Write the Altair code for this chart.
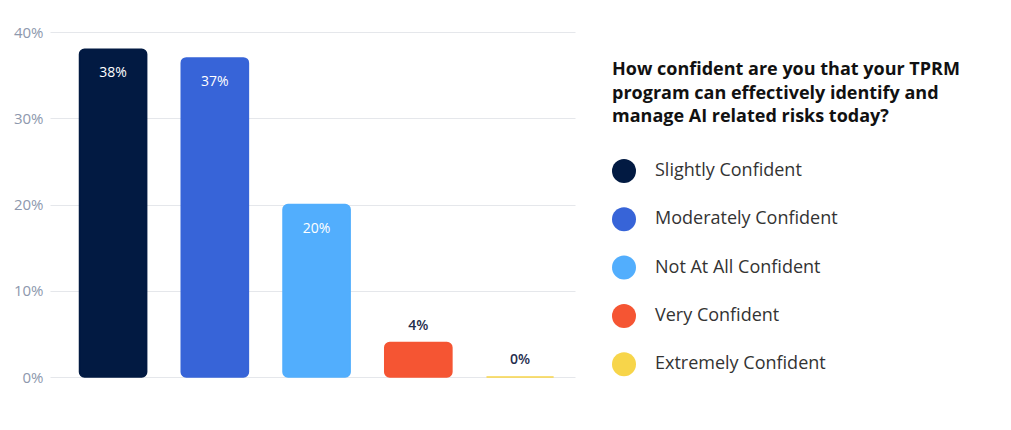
import altair as alt
import pandas as pd

categories = ["Slightly Confident", "Moderately Confident", "Not At All Confident",
              "Very Confident", "Extremely Confident"]
values = [0.38, 0.37, 0.20, 0.04, 0.00]
colors = ["#021a42", "#3764d8", "#52aefd", "#f55533", "#f7d54a"]
title_lines = ["How confident are you that your TPRM",
               "program can effectively identify and",
               "manage AI related risks today?"]

df = pd.DataFrame({"cat": categories, "val": values})

FONT = "Open Sans"

x = alt.X("cat:N", sort=categories, axis=None,
          scale=alt.Scale(paddingInner=0.34, paddingOuter=0.25, align=0.58))
y = alt.Y("val:Q", scale=alt.Scale(domain=[0, 0.4]),
          axis=alt.Axis(format=".0%", values=[0, 0.1, 0.2, 0.3, 0.4], title=None,
                        domain=False, ticks=False, labelPadding=7,
                        labelFont=FONT, labelFontSize=15, labelColor="#8d98ad",
                        gridColor="#e5e7eb", gridWidth=1))
color = alt.Color("cat:N", sort=categories,
                  scale=alt.Scale(domain=categories, range=colors),
                  legend=alt.Legend(title=title_lines, orient="none",
                                    legendX=562, legendY=29,
                                    titleFont=FONT, titleFontSize=18, titleFontWeight="bold",
                                    titleColor="#111111", titleLimit=420, titleLineHeight=23.5,
                                    titlePadding=33,
                                    labelFont=FONT, labelFontSize=18, labelColor="#333333",
                                    labelOffset=19, labelLimit=400,
                                    symbolType="circle", symbolSize=576, symbolStrokeWidth=0,
                                    symbolOpacity=1, rowPadding=24.3, padding=0))

bars = alt.Chart(df).mark_bar(cornerRadius=5, strokeWidth=1.5).encode(
    x=x, y=y, color=color,
    stroke=alt.Stroke("cat:N", sort=categories,
                      scale=alt.Scale(domain=categories, range=colors), legend=None),
)

inside = alt.Chart(df).transform_filter(alt.datum.val > 0.1).mark_text(
    font=FONT, fontSize=14, fontWeight=500, color="#ffffff", baseline="middle", dy=24
).encode(x=x, y=alt.Y("val:Q"), text=alt.Text("val:Q", format=".0%"))

above = alt.Chart(df).transform_filter(alt.datum.val <= 0.1).mark_text(
    font=FONT, fontSize=14, fontWeight=600, color="#1f2d4d", baseline="middle", dy=-17
).encode(x=x, y=alt.Y("val:Q"), text=alt.Text("val:Q", format=".0%"))

chart = alt.layer(bars, inside, above).properties(
    width=525, height=345,
    background="#ffffff",
    autosize=alt.AutoSizeParams(type="none"),
    padding={"left": 50, "top": 32, "right": 436, "bottom": 53},
).configure_view(stroke=None)

chart.save("out.html", embed_options={"renderer": "svg", "actions": False})
